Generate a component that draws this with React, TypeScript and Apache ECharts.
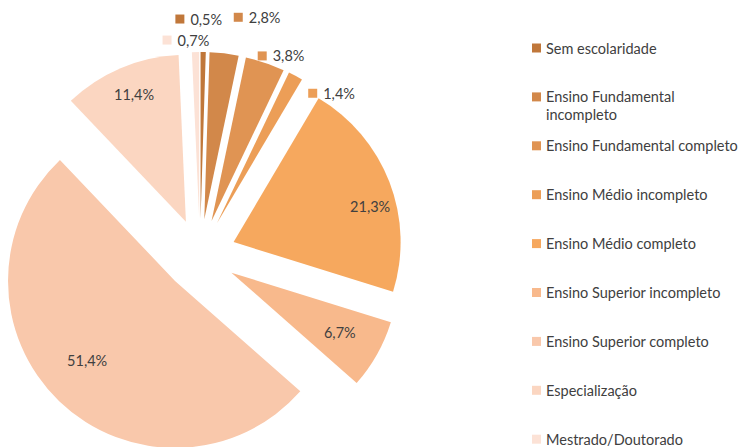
import React, { useEffect, useRef } from 'react';
import * as echarts from 'echarts';

const categories = [
  'Sem escolaridade',
  'Ensino Fundamental incompleto',
  'Ensino Fundamental completo',
  'Ensino Médio incompleto',
  'Ensino Médio completo',
  'Ensino Superior incompleto',
  'Ensino Superior completo',
  'Especialização',
  'Mestrado/Doutorado',
];
const shares = [0.5, 2.8, 3.8, 1.4, 21.3, 6.7, 51.4, 11.4, 0.7];
const colors = ['#C0773A', '#D2884A', '#E09453', '#EC9E57', '#F6A85E', '#F8B98C', '#F9C8AB', '#FBD6C1', '#FCE2D6'];

// label nudges (px) relative to the library's own label placement
const labelNudge: Record<number, [number, number]> = {
  0: [-33, -21],
  1: [-47, -40],
  2: [-59, -20],
  3: [-34, -2],
  8: [19, 0],
};
const innerNudge: Record<number, [number, number]> = {
  4: [13, 12],
  5: [-7, -5],
  6: [4, -16],
  7: [0, -6],
};

const FONT = 'Lato';
const TEXT_COLOR = '#404040';
const fmt = (v: number) => v.toFixed(1).replace('.', ',') + '%';

function measure(text: string, size: number): number {
  const c = document.createElement('canvas').getContext('2d');
  if (!c) return text.length * size * 0.5;
  c.font = `${size}px ${FONT}`;
  return c.measureText(text).width;
}

export default function App() {
  const ref = useRef<HTMLDivElement>(null);
  useEffect(() => {
    if (!ref.current) return;
    const chart = echarts.init(ref.current, undefined, { renderer: 'svg' });
    const center = [200, 255];
    const radius = 167;
    const offset = 36;
    const isSmall = (v: number) => v < 5;

    const legendFont = 14.5;
    const lh = 17;
    const wrapLh = 18;
    const legendLeft = 532;
    const maxTextW = 197;
    const legendTop0 = 48;
    const legendStep = 48.9;

    const legends = categories.map((name, i) => {
      const wrap = measure(name, legendFont) > maxTextW;
      let label = name;
      if (wrap) {
        const idx = name.lastIndexOf(' ');
        label = '{gap|}\n' + name.slice(0, idx) + '\n' + name.slice(idx + 1);
      }
      const yc = legendTop0 + legendStep * i;
      return {
        data: [{ name, itemStyle: { color: colors[i] } }],
        orient: 'vertical',
        left: legendLeft,
        top: wrap ? yc - wrapLh * 1.5 : yc - lh / 2,
        padding: 0,
        icon: 'rect',
        itemWidth: 9,
        itemHeight: 9,
        selectedMode: false,
        formatter: () => label,
        textStyle: {
          fontFamily: FONT,
          fontSize: legendFont,
          color: TEXT_COLOR,
          lineHeight: wrap ? wrapLh : lh,
          rich: { gap: { width: 1, height: wrapLh, lineHeight: wrapLh } },
        },
      };
    });

    const mainData = categories.map((name, i) => ({
      name,
      value: shares[i],
      selected: true,
      itemStyle: { color: colors[i] },
      label: isSmall(shares[i])
        ? {
            show: true,
            rich: {
              sq: { backgroundColor: colors[i], width: 9, height: 9 },
              t: { fontFamily: FONT, fontSize: 14.5, color: TEXT_COLOR, padding: [0, 0, 0, 6] },
            },
          }
        : { show: false },
    }));

    const innerLabelData = categories.map((name, i) => ({
      name,
      value: shares[i],
      selected: true,
      label: { show: !isSmall(shares[i]) },
    }));

    chart.setOption({
      animation: false,
      legend: legends,
      series: [
        {
          type: 'pie',
          center,
          radius,
          startAngle: 90,
          clockwise: true,
          selectedMode: 'multiple',
          selectedOffset: offset,
          avoidLabelOverlap: true,
          silent: true,
          itemStyle: { borderWidth: 0 },
          select: { itemStyle: { borderWidth: 0 } },
          label: {
            position: 'outside',
            formatter: (p: any) => `{sq|}{t|${fmt(p.value)}}`,
          },
          labelLine: { show: false, length: 12, length2: 0 },
          labelLayout: (p: any) => {
            const n = labelNudge[p.dataIndex];
            return n ? { dx: n[0], dy: n[1] } : {};
          },
          data: mainData,
        },
        {
          type: 'pie',
          center,
          radius: radius * 1.55,
          startAngle: 90,
          clockwise: true,
          selectedMode: 'multiple',
          selectedOffset: offset,
          silent: true,
          itemStyle: { color: 'rgba(0,0,0,0)', borderWidth: 0 },
          select: { itemStyle: { color: 'rgba(0,0,0,0)', borderWidth: 0 } },
          label: {
            position: 'inside',
            fontFamily: FONT,
            fontSize: 14.5,
            color: TEXT_COLOR,
            formatter: (p: any) => fmt(p.value),
          },
          labelLine: { show: false },
          labelLayout: (p: any) => {
            const n = innerNudge[p.dataIndex];
            return n ? { dx: n[0], dy: n[1] } : {};
          },
          data: innerLabelData,
        },
      ],
    });
    return () => chart.dispose();
  }, []);
  return <div ref={ref} style={{ position: 'absolute', left: 0, top: 0, width: 738, height: 447 }} />;
}
